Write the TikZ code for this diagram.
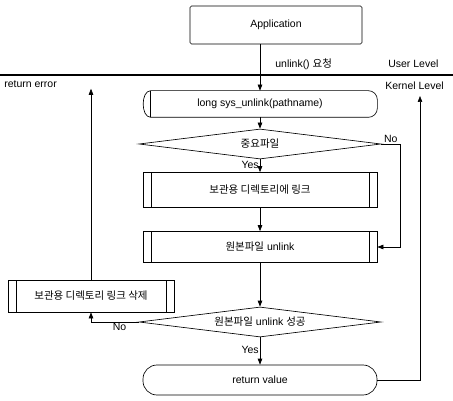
\documentclass[tikz,border=0pt]{standalone}
\usepackage{fontspec}
\setmainfont{Liberation Sans}
\newfontfamily\krfont{Noto Sans CJK KR}
\usetikzlibrary{arrows.meta,positioning,shapes.geometric,calc}

\tikzset{
  procbox/.style={draw, minimum width=234pt, minimum height=35pt, inner sep=0pt,
    path picture={
      \draw ([xshift=8pt]path picture bounding box.north west) -- ([xshift=8pt]path picture bounding box.south west)
            ([xshift=-8pt]path picture bounding box.north east) -- ([xshift=-8pt]path picture bounding box.south east);}},
  decbox/.style={draw, diamond, aspect=9, minimum width=242pt, minimum height=30pt, inner sep=0pt},
  flow/.style={-{Triangle[length=6pt,width=4.5pt]}},
  lbl/.style={inner sep=1pt}
}

\begin{document}
\begin{tikzpicture}[x=1pt, y=-1pt, font=\fontsize{10.5}{12}\selectfont, line width=0.65pt]
\useasboundingbox (0,0) rectangle (453,401);
% user level
\node[draw, rounded corners=1.5pt, minimum width=172pt, minimum height=38pt] (app) at (276,25) {Application};
\node[lbl, anchor=west] (req) at (274,64) {unlink() {\krfont 요청}};
\node[lbl, anchor=west] (user) at (387,64) {User Level};
\draw[line width=1.6pt] (0,75) -- (453,75);
% kernel level
\node[lbl, anchor=west] (err) at (3,84) {return error};
\node[lbl, anchor=west] (kern) at (384,86) {Kernel Level};
\coordinate (kin) at (420,96);
\node[minimum width=234pt, minimum height=26pt, inner sep=0pt] (sys) at (260,104) {long sys\_unlink(pathname)};
\draw[rounded corners=9pt] ([xshift=8pt]sys.south west) -- (sys.south east) -- (sys.north east) -- ([xshift=8pt]sys.north west);
\draw ([xshift=8pt]sys.north west) -- ([xshift=8pt]sys.south west);
\draw ([xshift=8pt]sys.north west) .. controls ([xshift=-2pt]sys.north west) and ([xshift=-2pt]sys.south west) .. ([xshift=8pt]sys.south west);
\node[decbox] (dec1) at (260,144) {\krfont 중요파일};
\node[procbox] (boxa) at (260,190) {\krfont 보관용 디렉토리에 링크};
\node[procbox, minimum height=31pt] (boxb) at (260,247) {{\krfont 원본파일} unlink};
\node[procbox, minimum width=166pt, minimum height=32pt] (boxc) at (91,296) {\krfont 보관용 디렉토리 링크 삭제};
\node[decbox] (dec2) at (260,322) {{\krfont 원본파일} unlink {\krfont 성공}};
\node[draw, rounded corners=14pt, minimum width=234pt, minimum height=30pt] (ret) at (260,380) {return value};
% connectors
\draw[flow] (app.south -| sys.north) -- (sys.north);
\draw[flow] (sys.south) -- (dec1.north);
\draw[flow] (dec1.south) -- node[lbl, left, pos=0.45] {Yes} (boxa.north);
\draw[flow] (boxa.south) -- (boxb.north);
\draw[flow] (boxb.south) -- (dec2.north);
\draw[flow] (dec2.south) -- node[lbl, left, pos=0.45] {Yes} (ret.north);
\draw[flow] (dec1.east) -- node[lbl, above] {No} ++(19,0) |- (boxb.east);
\draw[flow] (dec2.west) -| node[lbl, below, pos=0.2] {No} (boxc.south);
\draw[flow] (boxc.north) -- (boxc.north |- err.south);
\draw[flow] (ret.east) -| (kin);
\end{tikzpicture}
\end{document}
